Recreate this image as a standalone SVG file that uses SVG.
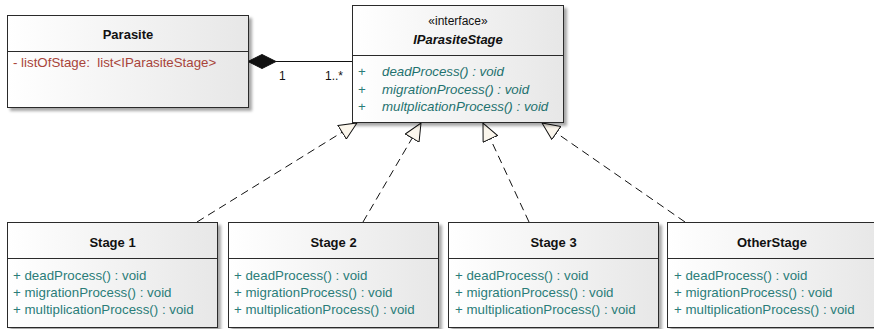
<svg xmlns="http://www.w3.org/2000/svg" width="874" height="329" viewBox="0 0 874 329">
  <defs>
    <linearGradient id="boxFill" x1="0" y1="0" x2="1" y2="0">
      <stop offset="0" stop-color="#ffffff"/>
      <stop offset="1" stop-color="#e7e7e7"/>
    </linearGradient>
    <filter id="shadow" x="-5%" y="-5%" width="115%" height="120%">
      <feGaussianBlur in="SourceAlpha" stdDeviation="1.5"/>
      <feOffset dx="3" dy="3" result="blur"/>
      <feComponentTransfer><feFuncA type="linear" slope="0.35"/></feComponentTransfer>
      <feMerge><feMergeNode/><feMergeNode in="SourceGraphic"/></feMerge>
    </filter>
    <!-- hollow triangle for realization -->
    <marker id="realize" markerUnits="userSpaceOnUse" viewBox="0 0 19 17" markerWidth="19" markerHeight="17" refX="18" refY="8.5" orient="auto">
      <path d="M0.5,0.5 L18,8.5 L0.5,16.5 Z" fill="#fbf6ec" stroke="#111" stroke-width="1" stroke-linejoin="miter"/>
    </marker>
  </defs>
  <style>
    .box { fill: url(#boxFill); stroke: #2a2a2a; stroke-width: 1; filter: url(#shadow); }
    .sep { stroke: #2a2a2a; stroke-width: 1; }
    text { font-family: "Liberation Sans", Arial, sans-serif; font-size: 13.3px; }
    .title { font-size: 13px; font-weight: bold; fill: #111; text-anchor: middle; }
    .stereo { font-size: 12px; fill: #111; text-anchor: middle; }
    .attr { fill: #a8443a; white-space: pre; }
    .op { fill: #2a7d79; }
    .iop { fill: #1f726f; font-style: italic; }
    .mult { font-size: 12px; fill: #111; }
    .dash { fill: none; stroke: #111; stroke-width: 1; stroke-dasharray: 8 5; marker-end: url(#realize); }
    .solid { fill: none; stroke: #111; stroke-width: 1; }
  </style>

  <g id="connectors">
    <!-- composition Parasite -> IParasiteStage -->
    <line class="solid" x1="276" y1="61.5" x2="352" y2="61.5"/>
    <polygon points="248,61.5 262,54.5 276,61.5 262,68.5" fill="#111" stroke="#111" stroke-width="1"/>
    <text class="mult" x="279" y="80">1</text>
    <text class="mult" x="325" y="80">1..*</text>
    <!-- realizations -->
    <line class="dash" x1="197" y1="222" x2="357" y2="123"/>
    <line class="dash" x1="363" y1="222" x2="421" y2="123"/>
    <line class="dash" x1="529" y1="222" x2="483" y2="123"/>
    <line class="dash" x1="685" y1="222" x2="542" y2="123"/>
  </g>

  <g id="parasite">
    <rect class="box" x="7.5" y="15.5" width="241" height="92"/>
    <line class="sep" x1="7.5" y1="51.5" x2="248.5" y2="51.5"/>
    <text class="title" x="128" y="39">Parasite</text>
    <text class="attr" x="13" y="67">- listOfStage:  list&lt;IParasiteStage&gt;</text>
  </g>

  <g id="iparasitestage">
    <rect class="box" x="352.5" y="5.5" width="211" height="117"/>
    <line class="sep" x1="352.5" y1="55.5" x2="563.5" y2="55.5"/>
    <text class="stereo" x="458" y="25">«interface»</text>
    <text class="title" x="458" y="44" font-style="italic">IParasiteStage</text>
    <text class="op" x="358" y="76">+</text>
    <text class="iop" x="382" y="76">deadProcess() : void</text>
    <text class="op" x="358" y="93.5">+</text>
    <text class="iop" x="382" y="93.5">migrationProcess() : void</text>
    <text class="op" x="358" y="111">+</text>
    <text class="iop" x="382" y="111">multplicationProcess() : void</text>
  </g>

  <g id="stage1">
    <rect class="box" x="7.5" y="222.5" width="210" height="105"/>
    <line class="sep" x1="7.5" y1="258.5" x2="217.5" y2="258.5"/>
    <text class="title" x="112.5" y="246.5">Stage 1</text>
    <text class="op" x="13" y="280">+ deadProcess() : void</text>
    <text class="op" x="13" y="297">+ migrationProcess() : void</text>
    <text class="op" x="13" y="314">+ multiplicationProcess() : void</text>
  </g>

  <g id="stage2">
    <rect class="box" x="228.5" y="222.5" width="210" height="105"/>
    <line class="sep" x1="228.5" y1="258.5" x2="438.5" y2="258.5"/>
    <text class="title" x="333.5" y="246.5">Stage 2</text>
    <text class="op" x="234" y="280">+ deadProcess() : void</text>
    <text class="op" x="234" y="297">+ migrationProcess() : void</text>
    <text class="op" x="234" y="314">+ multiplicationProcess() : void</text>
  </g>

  <g id="stage3">
    <rect class="box" x="448.5" y="222.5" width="210" height="105"/>
    <line class="sep" x1="448.5" y1="258.5" x2="658.5" y2="258.5"/>
    <text class="title" x="553.5" y="246.5">Stage 3</text>
    <text class="op" x="455" y="280">+ deadProcess() : void</text>
    <text class="op" x="455" y="297">+ migrationProcess() : void</text>
    <text class="op" x="455" y="314">+ multiplicationProcess() : void</text>
  </g>

  <g id="otherstage">
    <rect class="box" x="667.5" y="222.5" width="212" height="105"/>
    <line class="sep" x1="667.5" y1="258.5" x2="879.5" y2="258.5"/>
    <text class="title" x="772" y="246.5">OtherStage</text>
    <text class="op" x="674" y="280">+ deadProcess() : void</text>
    <text class="op" x="674" y="297">+ migrationProcess() : void</text>
    <text class="op" x="674" y="314">+ multiplicationProcess() : void</text>
  </g>
</svg>
